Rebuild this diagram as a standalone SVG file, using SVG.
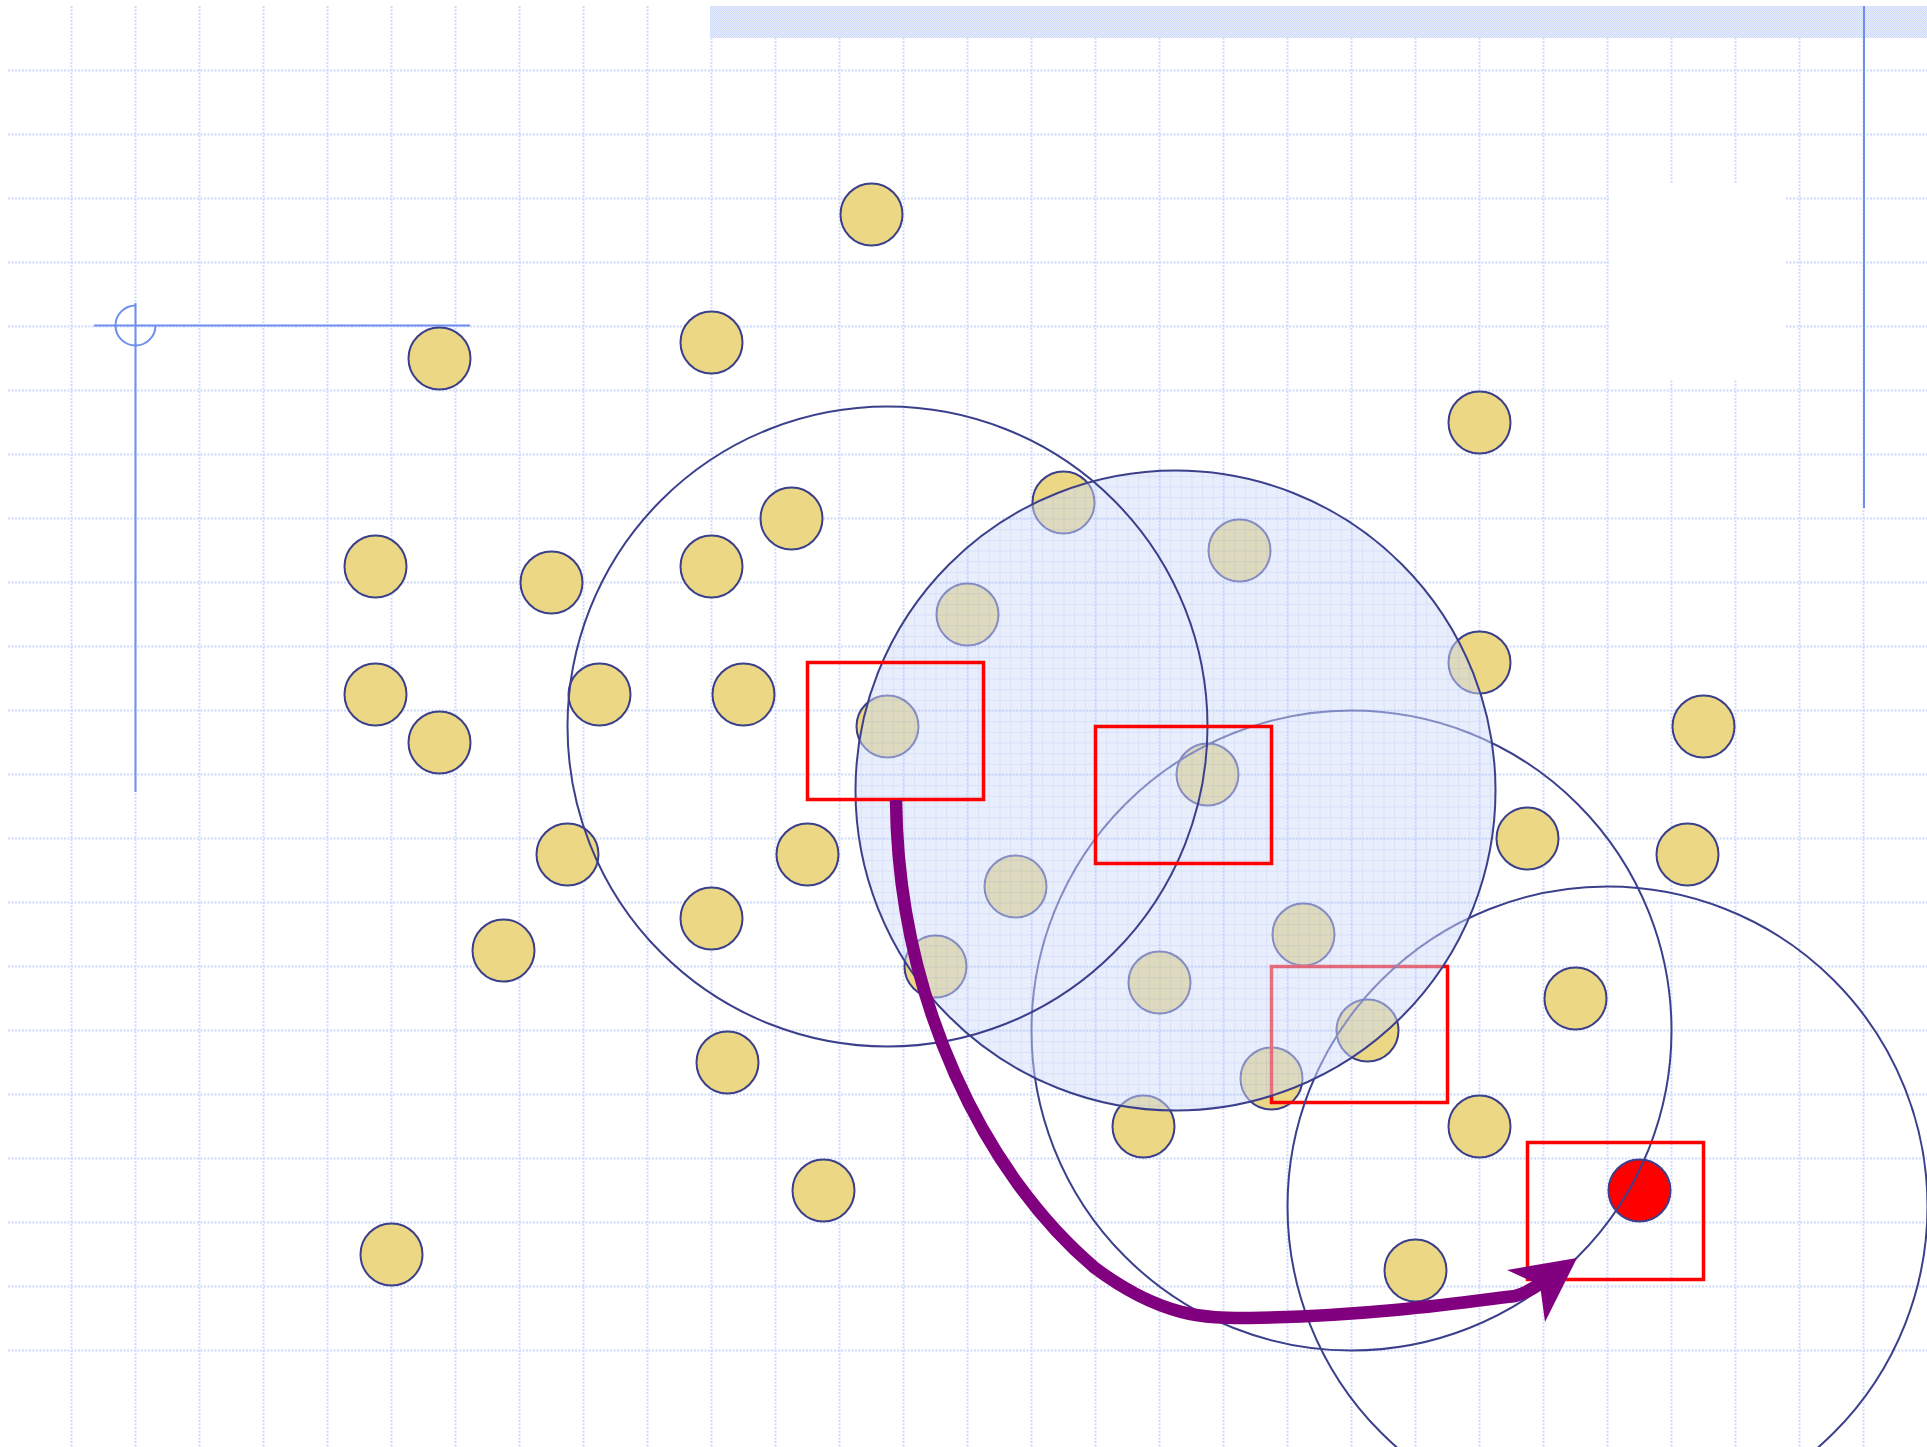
<svg xmlns="http://www.w3.org/2000/svg" width="1927" height="1447" viewBox="0 0 1927 1447">
<style>
.grid{fill:none;stroke:#d0dafb;stroke-width:2;stroke-dasharray:2 1.5}
.axis{fill:none;stroke:#6e8ef0;stroke-width:2}
.dot{fill:#ebd784;stroke:#3c408c;stroke-width:2}
.hot{fill:#ff0000;stroke:#3c408c;stroke-width:2}
.ring{fill:none;stroke:#3c408c;stroke-width:2}
.sel{fill:none;stroke:#ff0000;stroke-width:3.5}
.arrow{fill:none;stroke:#800080;stroke-width:12.5}
</style>
<defs>
<pattern id="hatch" patternUnits="userSpaceOnUse" width="2" height="2">
<rect width="2" height="2" fill="#e9eefd"/>
<rect width="1" height="1" fill="#cdd9fa"/>
<rect x="1" y="1" width="1" height="1" fill="#cdd9fa"/>
</pattern>
<pattern id="fine" patternUnits="userSpaceOnUse" x="7.5" y="6.5" width="10.6667" height="10.6667">
<rect width="10.6667" height="10.6667" fill="#d2ddfa"/>
<path d="M0.5,0V10.6667M0,0.5H10.6667" stroke="#b2c4f6" stroke-width="1"/>
</pattern>
</defs>
<rect width="1927" height="1447" fill="#ffffff"/>
<g id="grid">
<path class="grid" d="M71.5,6V1447M135.5,6V1447M199.5,6V1447M263.5,6V1447M327.5,6V1447M391.5,6V1447M455.5,6V1447M519.5,6V1447M583.5,6V1447M647.5,6V1447M711.5,6V1447M775.5,6V1447M839.5,6V1447M903.5,6V1447M967.5,6V1447M1031.5,6V1447M1095.5,6V1447M1159.5,6V1447M1223.5,6V1447M1287.5,6V1447M1351.5,6V1447M1415.5,6V1447M1479.5,6V1447M1543.5,6V1447M1607.5,6V1447M1671.5,6V1447M1735.5,6V1447M1799.5,6V1447M1863.5,6V1447"/>
<path class="grid" d="M8,70.5H1927M8,134.5H1927M8,198.5H1927M8,262.5H1927M8,326.5H1927M8,390.5H1927M8,454.5H1927M8,518.5H1927M8,582.5H1927M8,646.5H1927M8,710.5H1927M8,774.5H1927M8,838.5H1927M8,902.5H1927M8,966.5H1927M8,1030.5H1927M8,1094.5H1927M8,1158.5H1927M8,1222.5H1927M8,1286.5H1927M8,1350.5H1927"/>
<rect x="1609" y="183" width="177" height="196" fill="#ffffff"/>
<rect x="710" y="6" width="1217" height="32" fill="url(#hatch)"/>
<path class="axis" d="M1864,6V508"/>
</g>
<g id="axes">
<path class="axis" d="M94,325.5H470M135.5,303V792"/>
<path class="axis" d="M135.5,305.5A20,20 0 1,0 155.5,325.5"/>
</g>
<g id="points">
<g id="p1"><circle class="dot" cx="871.5" cy="214.5" r="31"/></g>
<g id="p2"><circle class="dot" cx="711.5" cy="342.5" r="31"/></g>
<g id="p3"><circle class="dot" cx="439.5" cy="358.5" r="31"/></g>
<g id="p4"><circle class="dot" cx="1479.5" cy="422.5" r="31"/></g>
<g id="p5"><circle class="dot" cx="1063.5" cy="502.5" r="31"/></g>
<g id="p6"><circle class="dot" cx="791.5" cy="518.5" r="31"/></g>
<g id="p7"><circle class="dot" cx="1239.5" cy="550.5" r="31"/></g>
<g id="p8"><circle class="dot" cx="375.5" cy="566.5" r="31"/></g>
<g id="p9"><circle class="dot" cx="551.5" cy="582.5" r="31"/></g>
<g id="p10"><circle class="dot" cx="711.5" cy="566.5" r="31"/></g>
<g id="p11"><circle class="dot" cx="967.5" cy="614.5" r="31"/></g>
<g id="p12"><circle class="dot" cx="1479.5" cy="662.5" r="31"/></g>
<g id="p13"><circle class="dot" cx="375.5" cy="694.5" r="31"/></g>
<g id="p14"><circle class="dot" cx="599.5" cy="694.5" r="31"/></g>
<g id="p15"><circle class="dot" cx="743.5" cy="694.5" r="31"/></g>
<g id="p16"><circle class="dot" cx="439.5" cy="742.5" r="31"/></g>
<g id="p17"><circle class="dot" cx="1703.5" cy="726.5" r="31"/></g>
<g id="p18"><circle class="dot" cx="887.5" cy="726.5" r="31"/></g>
<g id="p19"><circle class="dot" cx="1207.5" cy="774.5" r="31"/></g>
<g id="p20"><circle class="dot" cx="1527.5" cy="838.5" r="31"/></g>
<g id="p21"><circle class="dot" cx="1687.5" cy="854.5" r="31"/></g>
<g id="p22"><circle class="dot" cx="567.5" cy="854.5" r="31"/></g>
<g id="p23"><circle class="dot" cx="807.5" cy="854.5" r="31"/></g>
<g id="p24"><circle class="dot" cx="1015.5" cy="886.5" r="31"/></g>
<g id="p25"><circle class="dot" cx="711.5" cy="918.5" r="31"/></g>
<g id="p26"><circle class="dot" cx="1303.5" cy="934.5" r="31"/></g>
<g id="p27"><circle class="dot" cx="503.5" cy="950.5" r="31"/></g>
<g id="p28"><circle class="dot" cx="935.5" cy="966.5" r="31"/></g>
<g id="p29"><circle class="dot" cx="1159.5" cy="982.5" r="31"/></g>
<g id="p30"><circle class="dot" cx="1575.5" cy="998.5" r="31"/></g>
<g id="p31"><circle class="dot" cx="1367.5" cy="1030.5" r="31"/></g>
<g id="p32"><circle class="dot" cx="727.5" cy="1062.5" r="31"/></g>
<g id="p33"><circle class="dot" cx="1271.5" cy="1078.5" r="31"/></g>
<g id="p34"><circle class="dot" cx="1143.5" cy="1126.5" r="31"/></g>
<g id="p35"><circle class="dot" cx="1479.5" cy="1126.5" r="31"/></g>
<g id="p36"><circle class="dot" cx="823.5" cy="1190.5" r="31"/></g>
<g id="p37"><circle class="hot" cx="1639.5" cy="1190.5" r="31"/></g>
<g id="p38"><circle class="dot" cx="1415.5" cy="1270.5" r="31"/></g>
<g id="p39"><circle class="dot" cx="391.5" cy="1254.5" r="31"/></g>
</g>
<g id="window3"><rect class="sel" x="1271.5" y="966.5" width="176" height="136"/></g>
<g id="circleC"><circle class="ring" cx="1351.5" cy="1030.5" r="320"/></g>
<g id="circleD"><circle class="ring" cx="1607.5" cy="1206.5" r="320"/></g>
<g id="circleB"><circle cx="1175.5" cy="790.5" r="320" fill="url(#fine)" fill-opacity="0.5" stroke="#3c408c" stroke-width="2"/></g>
<g id="circleA"><circle class="ring" cx="887.5" cy="726.5" r="320"/></g>
<g id="window1"><rect class="sel" x="807.5" y="662.5" width="176" height="137"/></g>
<g id="window2"><rect class="sel" x="1095.5" y="726.5" width="176" height="137"/></g>
<g id="window4"><rect class="sel" x="1527.5" y="1142.5" width="176" height="137"/></g>
<g id="connectors">
<path class="arrow" d="M896,800C898,1000 985,1175 1095,1268C1165,1320 1210,1318 1250,1318C1380,1316 1480,1300 1515,1296C1525,1293 1535,1288 1545,1280"/>
<polygon points="1577,1258 1507,1270 1540,1285 1545,1322" fill="#800080"/>
</g>
</svg>
